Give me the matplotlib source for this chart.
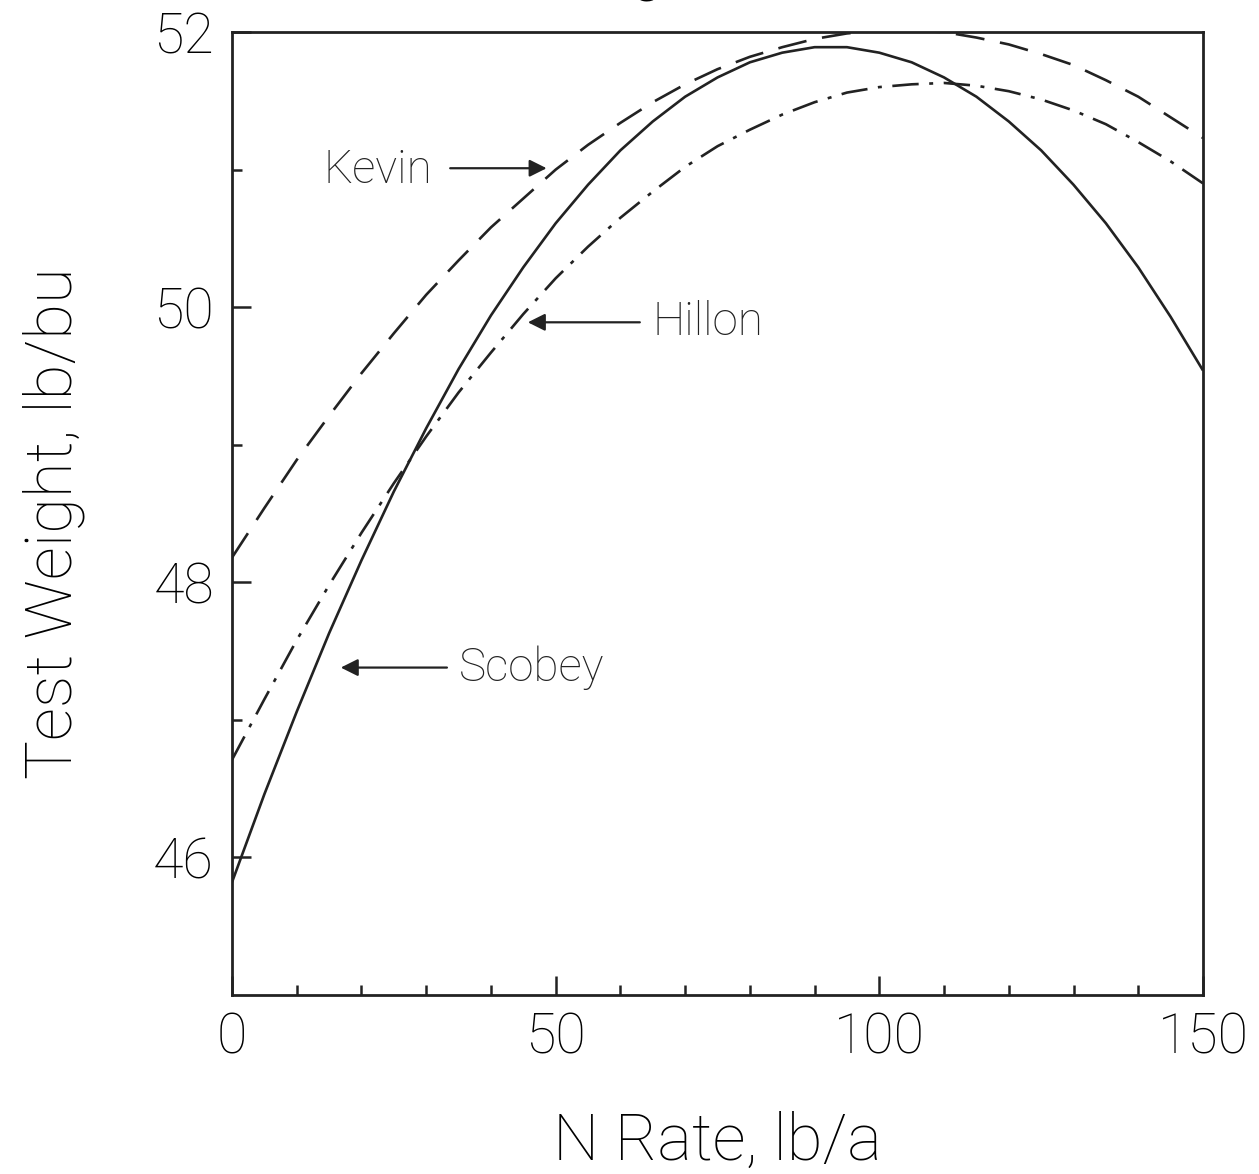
import matplotlib
matplotlib.use('Agg')
import matplotlib.pyplot as plt
from matplotlib.ticker import MultipleLocator

# N rate (lb/a) and test weight (lb/bu)
n_rate = [0, 5, 10, 15, 20, 25, 30, 35, 40, 45, 50, 55, 60, 65, 70, 75,
          80, 85, 90, 95, 100, 105, 110, 115, 120, 125, 130, 135, 140, 145, 150]
scobey = [45.82, 46.46, 47.06, 47.63, 48.16, 48.66, 49.12, 49.55, 49.94, 50.29,
          50.61, 50.89, 51.14, 51.35, 51.53, 51.67, 51.78, 51.85, 51.89, 51.89,
          51.85, 51.78, 51.67, 51.53, 51.35, 51.14, 50.89, 50.61, 50.29, 49.93, 49.54]
kevin = [48.18, 48.54, 48.89, 49.21, 49.52, 49.81, 50.09, 50.34, 50.58, 50.79,
         51.00, 51.18, 51.34, 51.49, 51.62, 51.73, 51.82, 51.89, 51.95, 51.99,
         52.01, 52.01, 52.00, 51.96, 51.91, 51.84, 51.76, 51.65, 51.53, 51.38, 51.23]
hillon = [46.71, 47.15, 47.58, 47.98, 48.36, 48.72, 49.06, 49.38, 49.67, 49.95,
          50.21, 50.44, 50.65, 50.84, 51.02, 51.17, 51.29, 51.40, 51.49, 51.56,
          51.60, 51.62, 51.63, 51.61, 51.57, 51.51, 51.43, 51.33, 51.20, 51.06, 50.90]

# label, text position, arrow tail, arrow head
labels = ['Kevin', 'Hillon', 'Scobey']
label_xy = [(31.0, 51.0), (65.0, 49.89), (35.0, 47.38)]
arrow_tail = [(33.7, 51.01), (63.0, 49.89), (33.2, 47.38)]
arrow_head = [(48.6, 51.01), (45.7, 49.89), (16.8, 47.38)]
label_ha = ['right', 'left', 'left']

plt.rcParams['font.family'] = ['Roboto', 'DejaVu Sans']
plt.rcParams['font.weight'] = 'light'

fig = plt.figure(figsize=(12.59, 11.74), dpi=100)
ax = fig.add_axes([0.1843, 0.1525, 0.7712, 0.8202])

lw = 1.9
ax.plot(n_rate, scobey, color='#222222', lw=lw, solid_capstyle='butt')
ax.plot(n_rate, kevin, color='#222222', lw=lw, dashes=(11, 6))
ax.plot(n_rate, hillon, color='#222222', lw=lw, dashes=(10, 4, 1.5, 4))

for lab, (tx, ty), tail, head, ha in zip(labels, label_xy, arrow_tail, arrow_head, label_ha):
    ax.annotate('', xy=head, xytext=tail,
                arrowprops=dict(arrowstyle='-|>', color='#222222', lw=1.6,
                                mutation_scale=26, shrinkA=0, shrinkB=0))
    ax.text(tx, ty, lab, ha=ha, va='center', fontsize=33, color='#222222',
            fontweight='light')

ax.set_xlim(0, 150)
ax.set_ylim(45, 52)
ax.xaxis.set_major_locator(MultipleLocator(50))
ax.xaxis.set_minor_locator(MultipleLocator(10))
ax.set_yticks([46, 48, 50, 52])
ax.set_yticks([47, 49, 51], minor=True)
ax.tick_params(which='both', direction='in', color='#222222', width=1.8)
ax.tick_params(which='major', length=14, labelsize=40)
ax.tick_params(which='minor', length=7)
ax.tick_params(axis='x', which='major', pad=12)
ax.tick_params(axis='y', which='major', pad=13)
for sp in ax.spines.values():
    sp.set_linewidth(2.0)
    sp.set_color('#222222')

ax.set_xlabel('N Rate, lb/a', fontsize=47, fontweight='light')
ax.xaxis.label.set_va('baseline')
ax.xaxis.set_label_coords(0.5, -0.171)
ax.set_ylabel('Test Weight, lb/bu', fontsize=47, fontweight='light')
ax.yaxis.label.set_va('baseline')
ax.yaxis.set_label_coords(-0.165, 0.49)

# title cut off at the top of the scanned page
fig.text(0.434, 1 + 12 / 1174, 'Test Weight', ha='center', va='baseline',
         fontsize=50, fontweight='light')

fig.savefig('out.png', dpi=100)
